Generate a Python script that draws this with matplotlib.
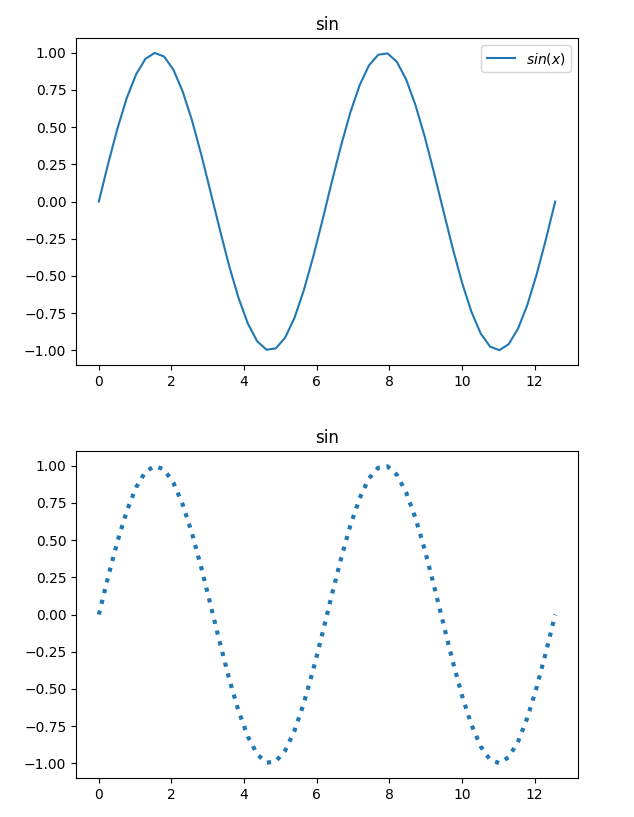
import matplotlib
matplotlib.use('Agg')
import matplotlib.pyplot as plt

# valores (50 puntos entre 0 y 4*pi)
x = [0.000, 0.256, 0.513, 0.769, 1.026, 1.282, 1.539, 1.795, 2.052, 2.308,
     2.565, 2.821, 3.077, 3.334, 3.590, 3.847, 4.103, 4.360, 4.616, 4.873,
     5.129, 5.386, 5.642, 5.898, 6.155, 6.411, 6.668, 6.924, 7.181, 7.437,
     7.694, 7.950, 8.207, 8.463, 8.719, 8.976, 9.232, 9.489, 9.745, 10.002,
     10.258, 10.515, 10.771, 11.028, 11.284, 11.541, 11.797, 12.054, 12.310, 12.566]
y = [0.000, 0.254, 0.491, 0.696, 0.855, 0.959, 0.999, 0.975, 0.887, 0.740,
     0.546, 0.315, 0.064, -0.191, -0.434, -0.648, -0.820, -0.939, -0.996, -0.987,
     -0.915, -0.782, -0.598, -0.375, -0.128, 0.128, 0.375, 0.598, 0.782, 0.915,
     0.987, 0.996, 0.939, 0.820, 0.648, 0.434, 0.191, -0.064, -0.315, -0.546,
     -0.740, -0.887, -0.975, -0.999, -0.959, -0.855, -0.696, -0.491, -0.254, 0.000]

fig = plt.figure(figsize=(6.34, 8.17), dpi=100)

ax1 = fig.add_axes([0.1199, 0.5532, 0.7918, 0.4002])
ax1.plot(x, y, label='$sin(x)$')
ax1.set_title('sin')
ax1.legend(loc='upper right')

ax2 = fig.add_axes([0.1199, 0.0477, 0.7918, 0.4002])
ax2.plot(x, y, ':', linewidth=3)
ax2.set_title('sin')

fig.savefig('out.png', dpi=100)
